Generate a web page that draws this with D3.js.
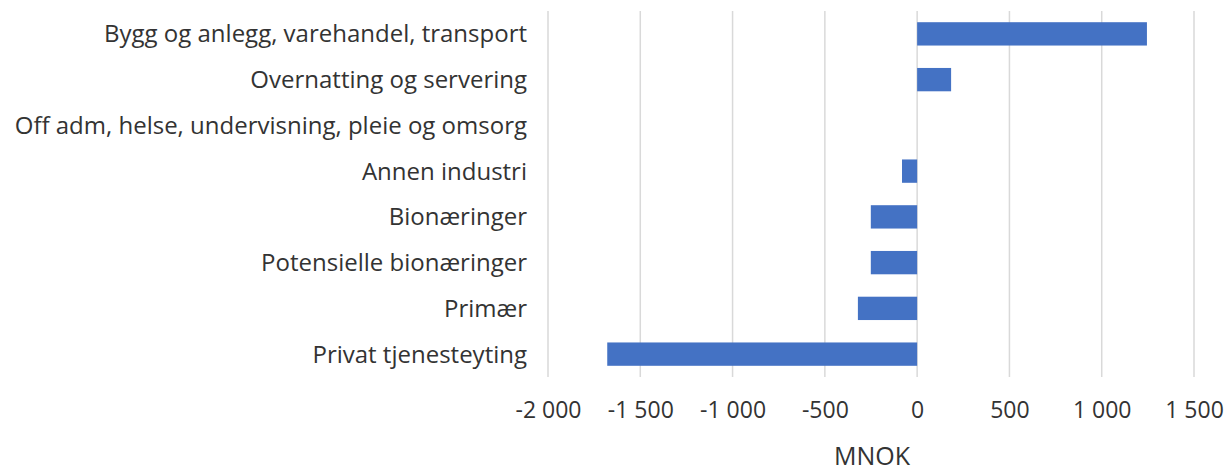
<!DOCTYPE html>
<html>
<head>
<meta charset="utf-8">
<script src="https://cdn.jsdelivr.net/npm/d3@7"></script>
<style>
  html, body { margin: 0; padding: 0; background: #fff; overflow: hidden; }
  svg { display: block; }
  text { font-family: "Open Sans", sans-serif; fill: #333; }
</style>
</head>
<body>
<div id="chart"></div>
<script>
// data, top to bottom
var categories = [
  "Bygg og anlegg, varehandel, transport",
  "Overnatting og servering",
  "Off adm, helse, undervisning, pleie og omsorg",
  "Annen industri",
  "Bionæringer",
  "Potensielle bionæringer",
  "Primær",
  "Privat tjenesteyting"
]
var values = [1245, 184, 0, -82, -251, -251, -321, -1679]
var tickValues = [-2000, -1500, -1000, -500, 0, 500, 1000, 1500]
var xlabel = "MNOK"

var w = 1226, h = 468
var margin = {top: 11, right: 32, bottom: 91, left: 548}
var innerWidth = w - margin.left - margin.right
var innerHeight = h - margin.top - margin.bottom

var svg = d3.select("#chart")
  .append("svg")
    .attr("width", w)
    .attr("height", h)

var xScale = d3.scaleLinear()
    .domain([-2000, 1500])
    .range([0, innerWidth])
var yScale = d3.scaleBand()
    .domain(categories)
    .range([0, innerHeight])
    .paddingInner(0.49)
    .paddingOuter(0.245)

var fmt = function(d){
  var s = Math.abs(d).toString().replace(/\B(?=(\d{3})+(?!\d))/g, " ")
  return (d < 0 ? "-" : "") + s
}

var g = svg.append("g")
    .attr("transform", `translate(${margin.left}, ${margin.top})`)

// gridlines
g.selectAll(".grid")
  .data(tickValues)
  .enter().append("line")
    .attr("class", "grid")
    .attr("x1", d => xScale(d))
    .attr("x2", d => xScale(d))
    .attr("y1", 0)
    .attr("y2", innerHeight)
    .attr("stroke", "#d9d9d9")
    .attr("stroke-width", 1.5)

// bars
g.selectAll(".bar")
  .data(values)
  .enter().append("rect")
    .attr("class", "bar")
    .attr("x", d => xScale(Math.min(0, d)))
    .attr("y", (d, i) => yScale(categories[i]))
    .attr("width", d => Math.abs(xScale(d) - xScale(0)))
    .attr("height", yScale.bandwidth())
    .attr("fill", "#4472C4")

// x axis
var xAxis = d3.axisBottom(xScale)
    .tickValues(tickValues)
    .tickFormat(fmt)
    .tickSize(0)
    .tickPadding(25)
var ax = g.append("g")
    .attr("transform", `translate(0, ${innerHeight})`)
    .call(xAxis)
ax.select(".domain").remove()
ax.selectAll("text")
    .style("font-size", "23px")
    .style("font-family", "'Open Sans', sans-serif")
    .attr("fill", "#333")

// y labels
g.selectAll(".ylab")
  .data(categories)
  .enter().append("text")
    .attr("class", "ylab")
    .attr("x", -21)
    .attr("y", d => yScale(d) + yScale.bandwidth() / 2)
    .attr("dy", "0.35em")
    .attr("text-anchor", "end")
    .style("font-size", "24px")
    .text(d => d)

svg.append("text")
    .attr("x", margin.left + innerWidth / 2 + 1)
    .attr("y", 465)
    .attr("text-anchor", "middle")
    .style("font-size", "25px")
    .text(xlabel)
</script>
</body>
</html>
